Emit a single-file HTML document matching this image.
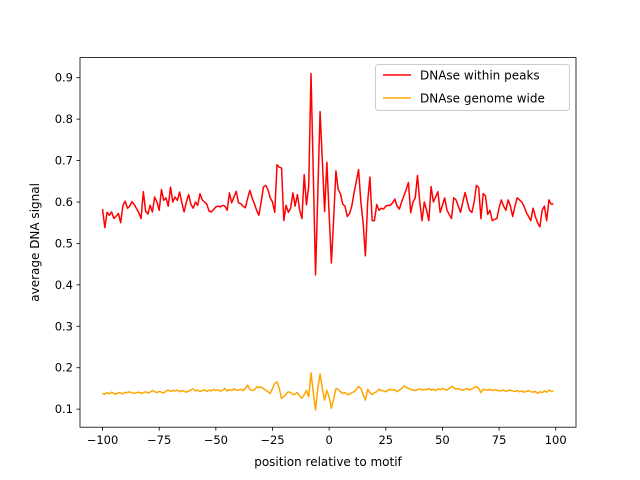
<!DOCTYPE html>
<html><head><meta charset="utf-8"><style>
body{margin:0;background:#fff;}
svg{display:block;font-family:"DejaVu Sans","Liberation Sans",sans-serif;}
</style></head><body>
<svg id="chart" width="640" height="480" viewBox="0 0 640 480" xmlns="http://www.w3.org/2000/svg">
<rect x="0" y="0" width="640" height="480" fill="#fff"/>
<g id="plot"></g>
</svg>
<script>
const xStart = -100;
const redValues = [
0.583,0.538,0.575,0.568,0.576,0.560,0.566,0.572,0.550,0.592,
0.602,0.585,0.590,0.601,0.594,0.584,0.574,0.560,0.625,0.578,
0.571,0.592,0.576,0.612,0.600,0.580,0.630,0.604,0.610,0.590,
0.636,0.600,0.612,0.604,0.624,0.598,0.576,0.600,0.618,0.594,
0.585,0.600,0.592,0.620,0.605,0.600,0.595,0.578,0.576,0.582,
0.588,0.590,0.588,0.592,0.590,0.580,0.622,0.598,0.612,0.626,
0.598,0.596,0.590,0.586,0.608,0.628,0.610,0.596,0.580,0.568,
0.600,0.636,0.640,0.630,0.610,0.600,0.575,0.690,0.684,0.682,
0.555,0.592,0.575,0.585,0.622,0.590,0.618,0.580,0.560,0.666,
0.593,0.640,0.910,0.670,0.424,0.620,0.818,0.700,0.577,0.696,
0.570,0.453,0.560,0.675,0.630,0.620,0.595,0.590,0.565,0.572,
0.590,0.622,0.650,0.678,0.600,0.550,0.470,0.600,0.660,0.555,
0.555,0.594,0.580,0.585,0.583,0.590,0.592,0.592,0.598,0.607,
0.590,0.583,0.600,0.615,0.630,0.647,0.574,0.600,0.610,0.664,
0.600,0.555,0.600,0.580,0.555,0.637,0.600,0.612,0.625,0.575,
0.592,0.610,0.580,0.570,0.560,0.610,0.605,0.590,0.575,0.600,
0.623,0.600,0.580,0.575,0.600,0.640,0.635,0.560,0.620,0.615,
0.570,0.580,0.555,0.558,0.560,0.585,0.605,0.590,0.580,0.605,
0.590,0.565,0.590,0.610,0.605,0.600,0.590,0.575,0.565,0.555,
0.585,0.565,0.550,0.540,0.580,0.590,0.555,0.605,0.595,0.595];
const orangeValues = [
0.138,0.136,0.140,0.137,0.141,0.138,0.136,0.140,0.139,0.137,
0.141,0.140,0.142,0.139,0.138,0.140,0.141,0.138,0.140,0.142,
0.139,0.141,0.145,0.142,0.140,0.143,0.141,0.139,0.144,0.146,
0.143,0.145,0.144,0.146,0.142,0.145,0.143,0.141,0.144,0.146,
0.149,0.144,0.146,0.142,0.145,0.147,0.143,0.146,0.144,0.148,
0.145,0.147,0.143,0.146,0.150,0.144,0.147,0.145,0.149,0.146,
0.146,0.148,0.145,0.150,0.158,0.148,0.145,0.146,0.154,0.152,
0.154,0.150,0.146,0.142,0.138,0.150,0.162,0.166,0.150,0.126,
0.130,0.136,0.142,0.140,0.135,0.136,0.140,0.132,0.126,0.135,
0.145,0.130,0.188,0.140,0.098,0.150,0.185,0.150,0.122,0.145,
0.130,0.102,0.125,0.150,0.148,0.142,0.138,0.140,0.135,0.136,
0.140,0.142,0.148,0.155,0.150,0.135,0.122,0.148,0.140,0.135,
0.140,0.142,0.148,0.145,0.144,0.142,0.146,0.148,0.146,0.147,
0.142,0.146,0.150,0.156,0.153,0.150,0.148,0.146,0.145,0.147,
0.149,0.146,0.148,0.147,0.150,0.146,0.148,0.145,0.149,0.147,
0.150,0.148,0.146,0.150,0.155,0.152,0.148,0.150,0.147,0.146,
0.148,0.150,0.146,0.149,0.152,0.155,0.150,0.140,0.148,0.147,
0.146,0.148,0.145,0.147,0.146,0.144,0.145,0.146,0.143,0.145,
0.146,0.144,0.143,0.145,0.142,0.144,0.141,0.143,0.145,0.142,
0.141,0.143,0.138,0.142,0.140,0.144,0.141,0.146,0.143,0.144];
const xTickLabels = ["−100","−75","−50","−25","0","25","50","75","100"];
const xTickValues = [-100,-75,-50,-25,0,25,50,75,100];
const yTickValues = [0.1,0.2,0.3,0.4,0.5,0.6,0.7,0.8,0.9];
const yTickLabels = ["0.1","0.2","0.3","0.4","0.5","0.6","0.7","0.8","0.9"];
const seriesNames = ["DNAse within peaks","DNAse genome wide"];

const NS="http://www.w3.org/2000/svg";
const L=80,R=576,T=57.6,B=427.2;
const xMin=-109.95,xMax=108.95;
const yMin=0.0565,yMax=0.9485;
const xs=v=>L+(v-xMin)/(xMax-xMin)*(R-L);
const ys=v=>B-(v-yMin)/(yMax-yMin)*(B-T);
const plot=document.getElementById('plot');
function mk(tag,attrs,parent){const e=document.createElementNS(NS,tag);for(const k in attrs)e.setAttribute(k,attrs[k]);(parent||plot).appendChild(e);return e;}

function series(vals,color,name){
  const pts=vals.map((v,i)=>xs(xStart+i).toFixed(2)+','+ys(v).toFixed(2)).join(' ');
  const p=mk('polyline',{points:pts,fill:'none',stroke:color,'stroke-width':1.5,'stroke-linejoin':'round'});
  
  
}
series(redValues,'#ff0000','series-dnase-within-peaks');
series(orangeValues,'#ffa500','series-dnase-genome-wide');

const frame=mk('rect',{x:L,y:T,width:R-L,height:B-T,fill:'none',stroke:'#000','stroke-width':0.8});



xTickValues.forEach((v,i)=>{
  const x=xs(v);
  const t=mk('line',{x1:x,x2:x,y1:B,y2:B+3.5,stroke:'#000','stroke-width':0.8});
  
  
  const tx=mk('text',{x:x,y:B+17,'text-anchor':'middle','font-size':'11.5px',fill:'#000'});
  tx.textContent=xTickLabels[i];
  
  
});
yTickValues.forEach((v,i)=>{
  const y=ys(v);
  const t=mk('line',{x1:L-3.5,x2:L,y1:y,y2:y,stroke:'#000','stroke-width':0.8});
  
  
  const tx=mk('text',{x:L-7,y:y+4,'text-anchor':'end','font-size':'11.5px',fill:'#000'});
  tx.textContent=yTickLabels[i];
  
  
});
const xl=mk('text',{x:(L+R)/2,y:466,'text-anchor':'middle','font-size':'12px',fill:'#000'});
xl.textContent='position relative to motif';


const yl=mk('text',{x:0,y:0,'text-anchor':'middle','font-size':'12px',fill:'#000',transform:'translate(39,'+((T+B)/2)+') rotate(-90)'});
yl.textContent='average DNA signal';



const lg=mk('g',{});


mk('rect',{x:375.5,y:64.5,width:194,height:46,rx:3,fill:'#fff','fill-opacity':0.8,stroke:'#ccc','stroke-width':1},lg);
const colors=['#ff0000','#ffa500'];
seriesNames.forEach((n,i)=>{
  const y=75+i*23;
  const ln=mk('line',{x1:383,x2:411,y1:y,y2:y,stroke:colors[i],'stroke-width':1.5},lg);
  
  
  const t=mk('text',{x:420,y:y+4.5,'font-size':'12px',fill:'#000'},lg);
  t.textContent=n;
  
  
});
</script>
</body></html>
